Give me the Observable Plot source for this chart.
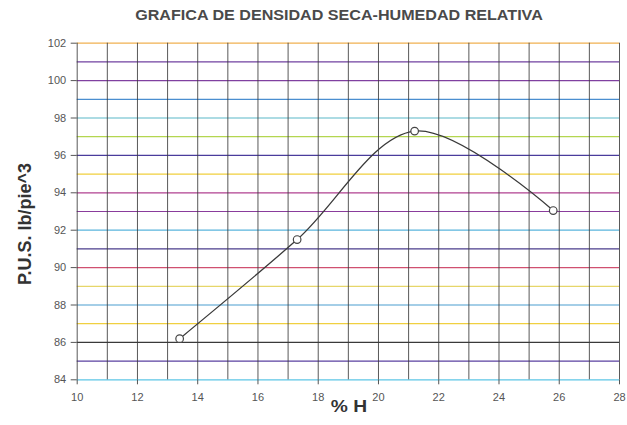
<!DOCTYPE html>
<html>
<head>
<meta charset="utf-8">
<script src="https://cdn.jsdelivr.net/npm/d3@7"></script>
<script src="https://cdn.jsdelivr.net/npm/@observablehq/plot@0.6"></script>
<style>
  html, body { margin: 0; padding: 0; background: #fff; }
  body { width: 627px; height: 425px; position: relative; overflow: hidden;
         font-family: "Liberation Sans", Arial, sans-serif; }
  #title { position: absolute; left: 0; top: 0; width: 627px; height: 30px; }
  #title span { position: absolute; left: 339px; top: 15px; white-space: nowrap;
    transform: translate(-50%, -50%) scaleX(1.15); font-weight: bold; font-size: 14px; color: #4a4a4a; }
  #chart { position: absolute; left: 0; top: 30px; }
  #ylab { position: absolute; left: 25px; top: 224px; white-space: nowrap;
    transform: translate(-50%, -50%) rotate(-90deg); font-weight: bold; font-size: 18px; color: #333; }
  #xlab { position: absolute; left: 349px; top: 407px; white-space: nowrap;
    transform: translate(-50%, -50%) scaleX(1.2); font-weight: bold; font-size: 16px; color: #333; }
</style>
</head>
<body>
<div id="title"><span>GRAFICA DE DENSIDAD SECA-HUMEDAD RELATIVA</span></div>
<div id="chart"></div>
<div id="ylab">P.U.S. lb/pie^3</div>
<div id="xlab">% H</div>
<script>
// Data
const humedad = [13.4, 17.3, 21.2, 25.8];     // % H
const densidad = [86.2, 91.5, 97.3, 93.05];   // P.U.S. lb/pie^3

// Tick labels
const xTicks = [10, 12, 14, 16, 18, 20, 22, 24, 26, 28];
const yTicks = [84, 86, 88, 90, 92, 94, 96, 98, 100, 102];

// Grid positions (every unit)
const xGrid = d3.range(10, 29);
const yGrid = d3.range(84, 103);

// Styles: colour of each horizontal grid line, from 84 up to 102
const gridColors = [
  "#5cc6e6", "#5a40a0", "#3a3a3a", "#f0d040", "#4a9ed0", "#e6d66a", "#d05070",
  "#4b3c8c", "#5ab4dc", "#8a3c9c", "#b04090", "#f0cf3c", "#4a3c9c", "#b4d650",
  "#5ab8c8", "#4a8ed0", "#8040a0", "#7040a0", "#f0b050"
];

const data = humedad.map((h, i) => ({h, d: densidad[i]}));

const chart = Plot.plot({
  width: 627,
  height: 395,
  marginTop: 12.7,
  marginBottom: 45.7,
  marginLeft: 76.7,
  marginRight: 8,
  style: {fontFamily: "'Liberation Sans', Arial, sans-serif", background: "transparent"},
  x: {domain: [10, 28]},
  y: {domain: [84, 102]},
  color: {type: "identity"},
  marks: [
    Plot.ruleY(yGrid, {y: d => d, stroke: (d, i) => gridColors[i], strokeWidth: 1.2}),
    Plot.ruleX(xGrid, {x: d => d, stroke: "#3c3c3c", strokeWidth: 1, strokeOpacity: 0.85}),
    Plot.axisY(yTicks, {tickSize: 6, tickPadding: 5, fontSize: 11, color: "#555", label: null}),
    Plot.axisX(xTicks, {tickSize: 5, tickPadding: 8, fontSize: 11, color: "#555", label: null}),
    Plot.line(data, {x: "h", y: "d", curve: "catmull-rom", stroke: "#3a3a3a", strokeWidth: 1.3}),
    Plot.dot(data, {x: "h", y: "d", r: 3.8, fill: "white", stroke: "#444", strokeWidth: 1.2})
  ]
});
document.getElementById("chart").appendChild(chart);
</script>
</body>
</html>
